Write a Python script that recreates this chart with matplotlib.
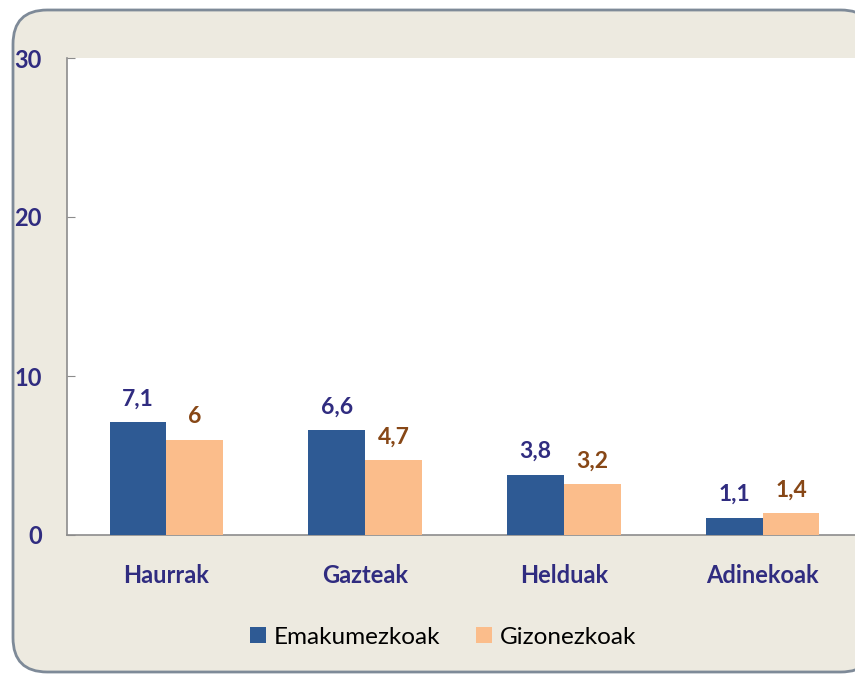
#!/usr/bin/env python3
"""Grouped bars: Emakumezkoak vs Gizonezkoak by age group."""

import matplotlib.pyplot as plt
from matplotlib.patches import FancyBboxPatch, Patch
import numpy as np

CATEGORIES = ["Haurrak", "Gazteak", "Helduak", "Adinekoak"]
SERIES = ["Emakumezkoak", "Gizonezkoak"]
WOMEN = [7.1, 6.6, 3.8, 1.1]
MEN = [6.0, 4.7, 3.2, 1.4]
Y_TICKS = [0, 10, 20, 30]

BLUE = "#2E5A94"
ORANGE = "#FBBD8B"
NAVY = "#302C80"
BROWN = "#874716"
BEIGE = "#EDEAE0"

plt.rcParams["font.family"] = ["Lato", "DejaVu Sans"]


def fmt(v: float) -> str:
    if float(v).is_integer():
        return f"{int(v)}"
    return f"{v:.1f}".replace(".", ",")


def main() -> None:
    W, H = 855, 676
    fig = plt.figure(figsize=(W / 100, H / 100), dpi=100)
    fig.patch.set_facecolor("white")

    # rounded panel behind everything
    frame = FancyBboxPatch(
        (13 / W, 4 / H), (W + 20 - 13) / W, (H - 10 - 4) / H,
        boxstyle="round,pad=0,rounding_size=0.04",
        transform=fig.transFigure, facecolor=BEIGE,
        edgecolor="#7E8A98", linewidth=2.0, zorder=-10,
        mutation_aspect=W / H,
    )
    fig.patches.append(frame)

    left, right, top, bottom = 67, 862, 58, 535
    ax = fig.add_axes([left / W, 1 - bottom / H, (right - left) / W, (bottom - top) / H])
    ax.set_zorder(1)
    ax.set_facecolor("white")

    x = np.arange(len(CATEGORIES))
    w = 0.286
    b1 = ax.bar(x - w / 2, WOMEN, width=w, color=BLUE, zorder=3)
    b2 = ax.bar(x + w / 2, MEN, width=w, color=ORANGE, zorder=3)

    for bars, vals, col in ((b1, WOMEN, NAVY), (b2, MEN, BROWN)):
        for bar, v in zip(bars, vals):
            ax.annotate(fmt(v), (bar.get_x() + bar.get_width() / 2, v),
                        xytext=(0, 9), textcoords="offset points",
                        ha="center", va="bottom", fontsize=16.5,
                        fontweight="bold", color=col)

    ax.set_xlim(-0.5, 3.5)
    ax.set_ylim(0, 30)
    ax.set_yticks(Y_TICKS)
    ax.set_xticks(x)
    ax.set_xticklabels(CATEGORIES)

    for side in ("top", "right"):
        ax.spines[side].set_visible(False)
    for side in ("left", "bottom"):
        ax.spines[side].set_color("#8C8C8C")
        ax.spines[side].set_linewidth(1.2)

    ax.tick_params(axis="y", direction="in", length=6, color="#8C8C8C",
                   pad=18, labelsize=17, labelcolor=NAVY)
    ax.tick_params(axis="x", length=0, pad=21, labelsize=17, labelcolor=NAVY)
    for lab in ax.get_yticklabels() + ax.get_xticklabels():
        lab.set_fontweight("bold")

    handles = [Patch(facecolor=BLUE), Patch(facecolor=ORANGE)]
    fig.legend(handles, SERIES, loc="center", bbox_to_anchor=(443 / W, 1 - 637 / H),
               ncol=2, frameon=False, fontsize=17.5, handlelength=0.65,
               handleheight=0.65, handletextpad=0.3, columnspacing=1.5)

    fig.savefig("out.png", dpi=100, facecolor=fig.get_facecolor())
    plt.close(fig)


if __name__ == "__main__":
    main()
